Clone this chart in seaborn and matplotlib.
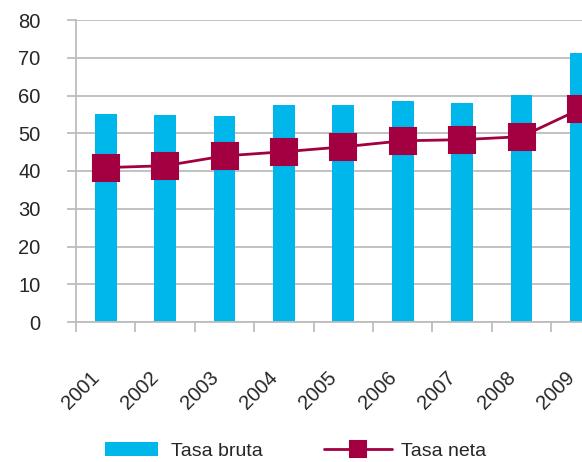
import numpy as np
import matplotlib
matplotlib.use("Agg")
import matplotlib.pyplot as plt
from matplotlib.transforms import ScaledTranslation
import seaborn as sns

# values
years = ["2001", "2002", "2003", "2004", "2005", "2006", "2007", "2008", "2009"]
tasa_bruta = [55.2, 54.9, 54.6, 57.6, 57.6, 58.6, 58.1, 60.2, 71.3]
tasa_neta = [40.9, 41.4, 44.0, 45.1, 46.4, 48.0, 48.3, 49.1, 56.5]
y_ticks = [0, 10, 20, 30, 40, 50, 60, 70, 80]

BAR_COLOR = "#00B7EC"
LINE_COLOR = "#A30042"
GRID = "#BDBDBD"

sns.set_style("white")
plt.rcParams["font.family"] = ["Liberation Sans", "DejaVu Sans"]

W, H = 582, 462
fig = plt.figure(figsize=(W / 100, H / 100), dpi=100)
# the reference is cropped on the right, so the axes run past the figure edge
ax = fig.add_axes([76 / W, 140 / H, 534.6 / W, 302 / H])

sns.barplot(x=years, y=tasa_bruta, color=BAR_COLOR, width=0.37, linewidth=0,
            saturation=1, label="Tasa bruta", ax=ax)
sns.pointplot(x=years, y=tasa_neta, color=LINE_COLOR, markers="s", markersize=19,
              linewidth=2, errorbar=None, label="Tasa neta", ax=ax)

handles, labels = ax.get_legend_handles_labels()
hmap = dict(zip(labels, handles))
if ax.get_legend() is not None:
    ax.get_legend().remove()

ax.set_ylim(0, 80)
ax.set_xlim(-0.5, len(years) - 0.5)
ax.set_yticks(y_ticks)
ax.set_xlabel("")
ax.set_ylabel("")
ax.set_axisbelow(True)
ax.grid(axis="y", color=GRID, linewidth=1.3)
ax.grid(axis="x", visible=False)

for side in ["top", "right"]:
    ax.spines[side].set_visible(False)
for side in ["left", "bottom"]:
    ax.spines[side].set_color(GRID)
    ax.spines[side].set_linewidth(1.3)

# tick marks between categories, labels under the bars
ax.set_xticks(np.arange(-0.5, len(years), 1.0))
ax.set_xticklabels([])
ax.set_xticks(range(len(years)), labels=years, minor=True)
ax.tick_params(axis="x", which="major", direction="out", length=7.2, width=1.3,
               color=GRID, bottom=True)
ax.tick_params(axis="x", which="minor", length=0, pad=33, labelsize=14.5)
ax.tick_params(axis="y", direction="out", length=6.5, width=1.3, color=GRID,
               left=True, pad=19, labelsize=14.5)

shift = ScaledTranslation(-16 / 100, 0, fig.dpi_scale_trans)
for lab in ax.get_xticklabels(minor=True):
    lab.set_rotation(45)
    lab.set_ha("right")
    lab.set_va("top")
    lab.set_rotation_mode("anchor")
    lab.set_transform(lab.get_transform() + shift)

fig.legend(handles=[hmap["Tasa bruta"]], labels=["Tasa bruta"], loc="center left",
           bbox_to_anchor=(105 / W, 11 / H), frameon=False, fontsize=14,
           borderpad=0, borderaxespad=0, handlelength=2.7, handleheight=0.77,
           handletextpad=0.7)
fig.legend(handles=[hmap["Tasa neta"]], labels=["Tasa neta"], loc="center left",
           bbox_to_anchor=(324 / W, 11 / H), frameon=False, fontsize=14,
           borderpad=0, borderaxespad=0, handlelength=3.5, handletextpad=0.45,
           markerscale=0.6)

fig.savefig("out.png", dpi=100)
